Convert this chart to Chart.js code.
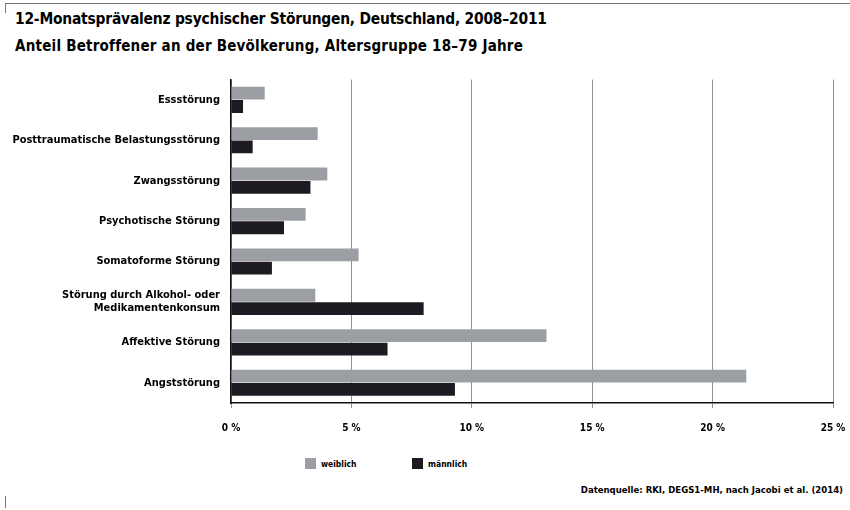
<!DOCTYPE html>
<html lang="de">
<head>
<meta charset="utf-8">
<script src="https://cdn.jsdelivr.net/npm/chart.js@4"></script>
<style>
  body { margin: 0; background: #fff; font-family: 'DejaVu Sans Condensed', 'DejaVu Sans', sans-serif; }
  #wrap { position: relative; width: 850px; height: 510px; overflow: hidden; }
  .frame-top { position: absolute; left: 5px; top: 3px; width: 845px; height: 1px; background: #777; }
  .frame-tick { position: absolute; left: 5px; width: 1px; background: #777; }
  h1, h2 { position: absolute; left: 15px; margin: 0; font-weight: bold; color: #000; white-space: nowrap; }
  h1 { top: 10px; font-size: 15.4px; letter-spacing: -0.2px; }
  h2 { top: 37px; font-size: 15px; letter-spacing: 0.22px; }
  #chart-box { position: absolute; left: 0; top: 70px; width: 850px; height: 370px; }
  .legend { position: absolute; top: 458px; font-size: 8.5px; font-weight: bold; display: flex; align-items: center; }
  .legend span.box { display: inline-block; width: 11px; height: 11px; margin-right: 5px; }
  .source { position: absolute; right: 7px; top: 484px; font-size: 9.5px; font-weight: bold; }
</style>
</head>
<body>
<div id="wrap">
  <div class="frame-top"></div>
  <div class="frame-tick" style="top:3px;height:10px"></div>
  <div class="frame-tick" style="top:496px;height:12px"></div>
  <h1>12-Monatsprävalenz psychischer Störungen, Deutschland, 2008–2011</h1>
  <h2>Anteil Betroffener an der Bevölkerung, Altersgruppe 18–79 Jahre</h2>
  <div id="chart-box"><canvas id="chart"></canvas></div>
  <div class="legend" style="left:305px"><span class="box" style="background:#9b9ea3"></span>weiblich</div>
  <div class="legend" style="left:412px"><span class="box" style="background:#1d1b21"></span>männlich</div>
  <div class="source">Datenquelle: RKI, DEGS1-MH, nach Jacobi et al. (2014)</div>
</div>
<script>
// Data (percent of population, 18-79 years)
const categories = [
    'Essstörung',
    'Posttraumatische Belastungsstörung',
    'Zwangsstörung',
    'Psychotische Störung',
    'Somatoforme Störung',
    ['Störung durch Alkohol- oder', 'Medikamentenkonsum'],
    'Affektive Störung',
    'Angststörung'
];
const weiblich = [1.4, 3.6, 4.0, 3.1, 5.3, 3.5, 13.1, 21.4];
const maennlich = [0.5, 0.9, 3.3, 2.2, 1.7, 8.0, 6.5, 9.3];
const xTicks = [0, 5, 10, 15, 20, 25];

const fontFamily = "'DejaVu Sans Condensed', 'DejaVu Sans', sans-serif";

const ctx = document.getElementById('chart').getContext('2d');
new Chart(ctx, {
    type: 'bar',
    data: {
        labels: categories,
        datasets: [
            { label: 'weiblich', data: weiblich, backgroundColor: '#9b9ea3' },
            { label: 'männlich', data: maennlich, backgroundColor: '#1d1b21' }
        ]
    },
    options: {
        indexAxis: 'y',
        responsive: true,
        maintainAspectRatio: false,
        animation: false,
        categoryPercentage: 0.66,
        barPercentage: 0.96,
        layout: { padding: { top: 9, right: 17 } },
        scales: {
            x: {
                min: 0,
                max: 25,
                afterBuildTicks: scale => {
                    scale.ticks = xTicks.map(v => ({ value: v }));
                },
                afterFit: scale => {
                    scale.height = 37;
                    scale.paddingLeft = 0;
                    scale.paddingRight = 0;
                },
                grid: {
                    color: '#8f9297',
                    lineWidth: 1,
                    drawTicks: true,
                    tickLength: 5,
                    tickColor: '#8f9297'
                },
                border: { color: '#111', width: 1.5 },
                ticks: {
                    padding: 14,
                    color: '#000',
                    font: { family: fontFamily, size: 10, weight: 'bold' },
                    callback: v => v + ' %'
                }
            },
            y: {
                afterFit: scale => { scale.width = 231; },
                grid: { display: false },
                border: { color: '#111', width: 1.5 },
                ticks: {
                    padding: 3,
                    color: '#000',
                    font: { family: fontFamily, size: 11, weight: 'bold' }
                }
            }
        },
        plugins: {
            legend: { display: false },
            tooltip: { enabled: false }
        }
    }
});
</script>
</body>
</html>
